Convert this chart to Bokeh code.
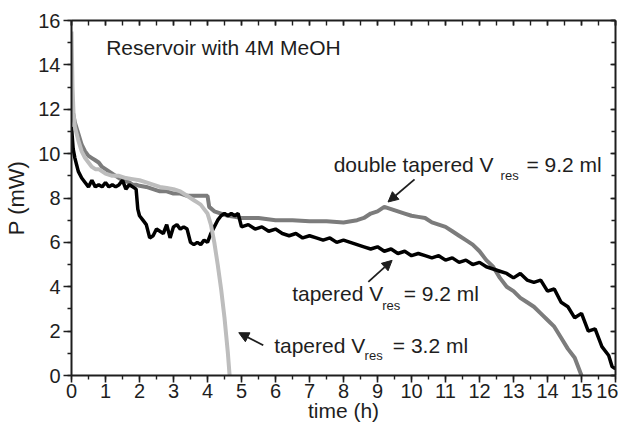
from bokeh.plotting import figure
from bokeh.models import (Range1d, LinearAxis, SingleIntervalTicker, Label, Arrow,
                          NormalHead, CustomJSTickFormatter)
from bokeh.embed import file_html
from bokeh.resources import INLINE

# ---------------- data ----------------
black_t = [0, 0.05, 0.1, 0.15, 0.2, 0.3, 0.4, 0.5, 0.6, 0.7, 0.8, 0.9, 1.0, 1.1, 1.2, 1.3,
           1.4, 1.5, 1.6, 1.7, 1.8, 1.9, 1.95, 2.0, 2.1, 2.2, 2.3, 2.4, 2.5, 2.6, 2.7, 2.8,
           2.9, 3.0, 3.1, 3.2, 3.3, 3.4, 3.5, 3.6, 3.7, 3.8, 3.9, 4.0, 4.1, 4.2, 4.3, 4.4,
           4.5, 4.6, 4.7, 4.8, 4.9, 5.0, 5.2, 5.4, 5.6, 5.8, 6.0, 6.2, 6.4, 6.6, 6.8, 7.0,
           7.2, 7.4, 7.6, 7.8, 8.0, 8.2, 8.4, 8.6, 8.8, 9.0, 9.2, 9.4, 9.6, 9.8, 10.0, 10.2,
           10.4, 10.6, 10.8, 11.0, 11.2, 11.4, 11.6, 11.8, 12.0, 12.2, 12.4, 12.6, 12.8,
           13.0, 13.2, 13.4, 13.6, 13.8, 14.0, 14.2, 14.4, 14.6, 14.8, 15.0, 15.2, 15.4,
           15.6, 15.8, 15.9, 16.0]
black_p = [11.2, 10.2, 9.8, 9.5, 9.2, 8.9, 8.7, 8.5, 8.8, 8.5, 8.6, 8.5, 8.7, 8.5, 8.6, 8.5,
           8.6, 8.8, 8.4, 8.6, 8.5, 8.4, 7.5, 7.2, 7.0, 6.8, 6.2, 6.3, 6.6, 6.5, 6.4, 6.8,
           6.2, 6.7, 6.8, 6.6, 6.7, 6.6, 6.0, 5.9, 6.0, 5.9, 6.1, 6.0, 6.4, 6.7, 7.0, 7.2,
           7.3, 7.2, 7.3, 7.2, 7.3, 6.7, 6.8, 6.6, 6.7, 6.5, 6.6, 6.4, 6.3, 6.4, 6.2, 6.3,
           6.2, 6.1, 6.2, 6.0, 6.1, 6.0, 5.9, 5.8, 5.7, 5.8, 5.6, 5.7, 5.5, 5.6, 5.4, 5.5,
           5.4, 5.3, 5.4, 5.2, 5.3, 5.1, 5.2, 5.0, 5.1, 4.9, 4.8, 4.7, 4.6,
           4.4, 4.6, 4.3, 4.2, 4.3, 3.8, 3.9, 3.3, 3.1, 2.6, 2.8, 2.0, 2.1,
           1.3, 0.9, 0.4, 0.3]

dbl_t = [0, 0.05, 0.1, 0.2, 0.3, 0.4, 0.5, 0.6, 0.7, 0.8, 0.9, 1.0, 1.1, 1.2, 1.3, 1.4, 1.5,
         1.6, 1.7, 1.8, 1.9, 2.0, 2.2, 2.4, 2.6, 2.8, 3.0, 3.2, 3.4, 3.6, 3.8, 4.0, 4.05, 4.2,
         4.4, 4.6, 4.8, 5.0, 5.5, 6.0, 6.5, 7.0, 7.5, 8.0, 8.4, 8.6, 8.8, 9.0, 9.2, 9.4, 9.6,
         9.8, 10.0, 10.2, 10.4, 10.6, 10.8, 11.0, 11.2, 11.4, 11.6, 11.8, 12.0, 12.2, 12.4,
         12.6, 12.8, 13.0, 13.2, 13.4, 13.6, 13.8, 14.0, 14.2, 14.4, 14.6, 14.8, 15.0]
dbl_p = [12.3, 11.8, 11.4, 10.9, 10.4, 10.1, 9.9, 9.8, 9.7, 9.6, 9.4, 9.3, 9.2, 9.1, 9.0, 8.9,
         8.8, 8.75, 8.7, 8.6, 8.6, 8.55, 8.5, 8.4, 8.3, 8.3, 8.2, 8.2, 8.1, 8.1, 8.1, 8.1, 7.6,
         7.4, 7.3, 7.2, 7.15, 7.1, 7.1, 7.0, 7.0, 6.95, 6.95, 6.9, 7.0, 7.1, 7.3, 7.4, 7.6,
         7.5, 7.4, 7.3, 7.2, 7.15, 7.1, 6.9, 6.8, 6.7, 6.5, 6.3, 6.1, 5.9, 5.6, 5.2, 4.9, 4.4,
         4.0, 3.8, 3.5, 3.3, 3.1, 2.8, 2.5, 2.2, 1.7, 1.2, 0.8, 0.0]

small_t = [0, 0.03, 0.06, 0.1, 0.2, 0.3, 0.4, 0.5, 0.6, 0.7, 0.8, 1.0, 1.2, 1.4, 1.6, 1.8,
           2.0, 2.2, 2.4, 2.6, 2.8, 3.0, 3.2, 3.4, 3.6, 3.7, 3.8, 3.9, 4.0, 4.1, 4.2, 4.3,
           4.4, 4.5, 4.55, 4.6, 4.63, 4.65]
small_p = [15.5, 13.0, 11.8, 11.2, 10.6, 10.1, 9.8, 9.6, 9.4, 9.3, 9.3, 9.1, 9.0, 9.0, 8.9,
           8.85, 8.8, 8.7, 8.6, 8.5, 8.45, 8.4, 8.3, 8.1, 7.9, 7.8, 7.7, 7.5, 7.3, 6.8, 6.0,
           5.0, 3.9, 2.6, 1.8, 1.0, 0.4, 0.0]

x_title = "time (h)"
y_title = "P (mW)"

FONT = "Liberation Sans"
INK = "#1e1e1e"

p = figure(width=618, height=424, output_backend="svg", toolbar_location=None,
           x_range=Range1d(0, 16), y_range=Range1d(0, 16),
           min_border_left=71, min_border_right=3, min_border_top=20, min_border_bottom=48)
p.xgrid.visible = False
p.ygrid.visible = False
p.outline_line_color = None
p.background_fill_color = "white"
p.border_fill_color = "white"

def style_axis(ax, tin, tout, mtin, mtout, labels=True):
    ax.axis_line_color = INK
    ax.axis_line_width = 2
    ax.major_tick_line_color = INK
    ax.minor_tick_line_color = INK
    ax.major_tick_line_width = 1.6
    ax.minor_tick_line_width = 1.4
    ax.major_tick_in = tin
    ax.major_tick_out = tout
    ax.minor_tick_in = mtin
    ax.minor_tick_out = mtout
    if labels:
        ax.major_label_text_font = FONT
        ax.major_label_text_font_size = "20px"
        ax.major_label_text_color = INK
    else:
        ax.formatter = CustomJSTickFormatter(code="return ''")
        ax.major_label_text_font_size = "1px"
        ax.major_label_standoff = 0

xb = p.xaxis[0]
xb.ticker = SingleIntervalTicker(interval=1, num_minor_ticks=2)
style_axis(xb, 0, 7, 0, 4)
xb.major_label_standoff = 1
xb.axis_label = x_title
xb.axis_label_text_font = FONT
xb.axis_label_text_font_size = "21px"
xb.axis_label_text_font_style = "normal"
xb.axis_label_text_color = INK
xb.axis_label_standoff = -2

yl = p.yaxis[0]
yl.ticker = SingleIntervalTicker(interval=2, num_minor_ticks=2)
style_axis(yl, 0, 8, 0, 4)
yl.major_label_standoff = 3
yl.axis_label = y_title
yl.axis_label_text_font = FONT
yl.axis_label_text_font_size = "22px"
yl.axis_label_text_font_style = "normal"
yl.axis_label_text_color = INK
yl.axis_label_standoff = 6

xt = LinearAxis(ticker=SingleIntervalTicker(interval=1, num_minor_ticks=2))
style_axis(xt, 5, 0, 5, 0, labels=False)
p.add_layout(xt, "above")
yr = LinearAxis(ticker=SingleIntervalTicker(interval=2, num_minor_ticks=2))
style_axis(yr, 5, 0, 4, 0, labels=False)
p.add_layout(yr, "right")

# data lines
p.line(dbl_t, dbl_p, line_color="#7c7c7c", line_width=4)
p.line(black_t, black_p, line_color="#000000", line_width=3.5)
p.line(small_t, small_p, line_color="#bdbdbd", line_width=4)

def lab(x, y, text, size="21px", align="left"):
    p.add_layout(Label(x=x, y=y, text=text, text_font=FONT, text_font_size=size,
                       text_color=INK, text_baseline="middle", text_align=align))

lab(1.02, 14.77, "Reservoir with 4M MeOH")

lab(7.71, 9.50, "double tapered V")
lab(12.62, 9.01, "res", size="13px")
lab(13.38, 9.50, "= 9.2 ml")

lab(6.49, 3.69, "tapered V")
lab(9.14, 3.16, "res", size="13px")
lab(9.77, 3.69, "= 9.2 ml")

lab(5.96, 1.36, "tapered V")
lab(8.62, 0.88, "res", size="13px")
lab(9.45, 1.36, "= 3.2 ml")

def arrow(x0, y0, x1, y1):
    p.add_layout(Arrow(end=NormalHead(size=10, fill_color=INK, line_color=INK, line_width=1),
                       x_start=x0, y_start=y0, x_end=x1, y_end=y1,
                       line_color=INK, line_width=1.8))

arrow(10.09, 8.84, 9.31, 7.82)
arrow(8.73, 4.22, 9.43, 5.19)
arrow(5.64, 1.36, 4.92, 1.93)

open("out.html", "w").write(file_html(p, INLINE))
